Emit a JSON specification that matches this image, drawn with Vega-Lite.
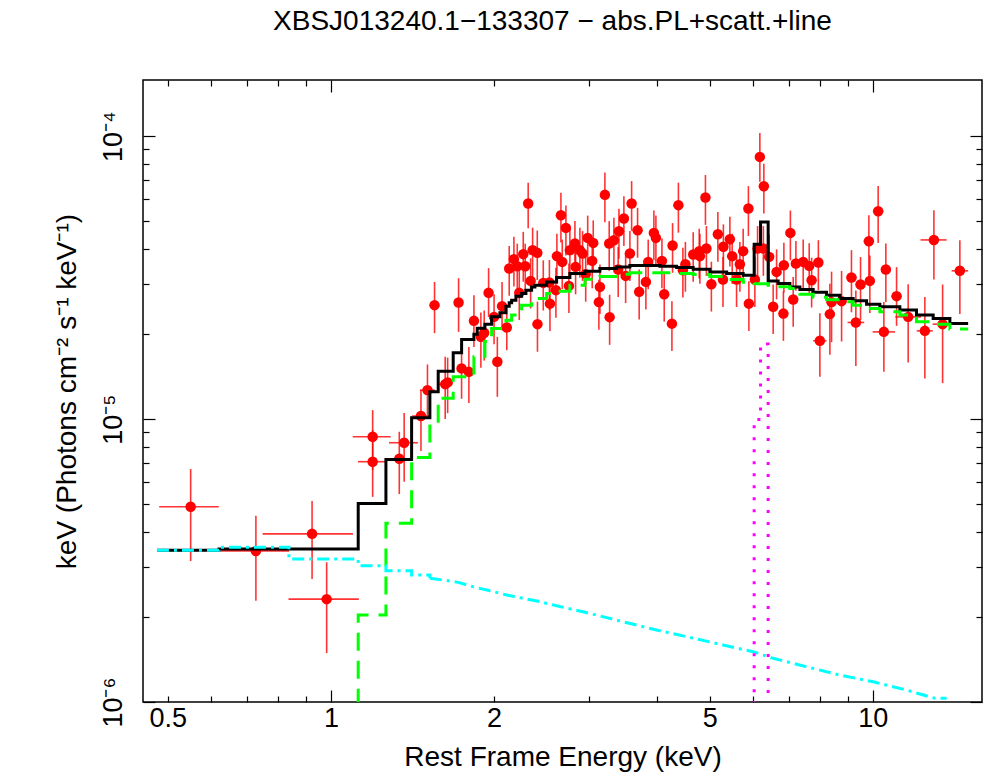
{
  "$schema": "https://vega.github.io/schema/vega-lite/v6.json",
  "autosize": {"type": "none"},
  "padding": {"left": 143, "top": 80, "right": 3, "bottom": 70},
  "width": 839,
  "height": 622,
  "background": "#ffffff",
  "title": {"text": "XBSJ013240.1−133307 − abs.PL+scatt.+line", "fontSize": 28, "fontWeight": "normal", "font": "Liberation Sans", "color": "#000000", "anchor": "middle", "baseline": "alphabetic", "offset": 21, "dx": -10},
  "config": {
    "view": {"stroke": "#000000", "strokeWidth": 1.5},
    "font": "Liberation Sans",
    "axis": {"labelFont": "Liberation Sans", "titleFont": "Liberation Sans", "labelColor": "#000000", "titleColor": "#000000", "tickColor": "#000000", "titleFontWeight": "normal", "grid": false, "labelFlush": false, "labelOverlap": false}
  },
  "datasets": {
    "pts": [
      {"e": 0.551, "elo": 0.482, "ehi": 0.621, "f": 4.90e-6, "flo": 3.15e-6, "fhi": 6.66e-6},
      {"e": 0.727, "elo": 0.619, "ehi": 0.837, "f": 3.42e-6, "flo": 2.28e-6, "fhi": 4.55e-6},
      {"e": 0.923, "elo": 0.748, "ehi": 1.098, "f": 3.93e-6, "flo": 2.72e-6, "fhi": 5.13e-6},
      {"e": 0.982, "elo": 0.835, "ehi": 1.126, "f": 2.31e-6, "flo": 1.49e-6, "fhi": 3.12e-6},
      {"e": 1.194, "elo": 1.097, "ehi": 1.289, "f": 8.66e-6, "flo": 6.60e-6, "fhi": 1.076e-5},
      {"e": 1.194, "elo": 1.122, "ehi": 1.267, "f": 7.07e-6, "flo": 5.31e-6, "fhi": 9.14e-6},
      {"e": 1.337, "elo": 1.280, "ehi": 1.399, "f": 7.24e-6, "flo": 5.43e-6, "fhi": 9.02e-6},
      {"e": 1.365, "elo": 1.280, "ehi": 1.447, "f": 8.25e-6, "flo": 6.01e-6, "fhi": 1.050e-5},
      {"e": 1.466, "elo": 1.411, "ehi": 1.523, "f": 1.025e-5, "flo": 7.71e-6, "fhi": 1.266e-5},
      {"e": 1.507, "elo": 1.459, "ehi": 1.555, "f": 1.266e-5, "flo": 1.02e-5, "fhi": 1.56e-5},
      {"e": 1.625, "elo": 1.584, "ehi": 1.667, "f": 1.329e-5, "flo": 1.00e-5, "fhi": 1.66e-5},
      {"e": 1.642, "elo": 1.610, "ehi": 1.675, "f": 1.348e-5, "flo": 1.05e-5, "fhi": 1.65e-5},
      {"e": 1.553, "elo": 1.533, "ehi": 1.573, "f": 2.528e-5, "flo": 2.013e-5, "fhi": 3.055e-5},
      {"e": 1.720, "elo": 1.698, "ehi": 1.743, "f": 2.584e-5, "flo": 2.034e-5, "fhi": 3.148e-5},
      {"e": 1.836, "elo": 1.812, "ehi": 1.860, "f": 2.225e-5, "flo": 1.800e-5, "fhi": 2.742e-5},
      {"e": 1.954, "elo": 1.929, "ehi": 1.980, "f": 2.794e-5, "flo": 2.298e-5, "fhi": 3.417e-5},
      {"e": 2.069, "elo": 2.042, "ehi": 2.096, "f": 2.508e-5, "flo": 2.062e-5, "fhi": 3.055e-5},
      {"e": 2.000, "elo": 1.974, "ehi": 2.026, "f": 2.298e-5, "flo": 1.84e-5, "fhi": 2.76e-5},
      {"e": 1.918, "elo": 1.893, "ehi": 1.943, "f": 2.018e-5, "flo": 1.61e-5, "fhi": 2.42e-5},
      {"e": 1.891, "elo": 1.866, "ehi": 1.916, "f": 1.953e-5, "flo": 1.52e-5, "fhi": 2.38e-5},
      {"e": 2.111, "elo": 2.084, "ehi": 2.138, "f": 2.109e-5, "flo": 1.752e-5, "fhi": 2.468e-5},
      {"e": 2.028, "elo": 2.002, "ehi": 2.054, "f": 1.594e-5, "flo": 1.199e-5, "fhi": 1.953e-5},
      {"e": 1.742, "elo": 1.719, "ehi": 1.765, "f": 1.511e-5, "flo": 1.18e-5, "fhi": 1.84e-5},
      {"e": 1.797, "elo": 1.774, "ehi": 1.821, "f": 1.469e-5, "flo": 1.139e-5, "fhi": 1.800e-5},
      {"e": 2.312, "elo": 2.282, "ehi": 2.342, "f": 5.785e-5, "flo": 4.729e-5, "fhi": 6.840e-5},
      {"e": 2.133, "elo": 2.105, "ehi": 2.161, "f": 3.408e-5, "flo": 2.73e-5, "fhi": 4.09e-5},
      {"e": 2.176, "elo": 2.148, "ehi": 2.204, "f": 3.676e-5, "flo": 2.94e-5, "fhi": 4.41e-5},
      {"e": 2.207, "elo": 2.178, "ehi": 2.236, "f": 3.472e-5, "flo": 2.78e-5, "fhi": 4.17e-5},
      {"e": 2.264, "elo": 2.234, "ehi": 2.293, "f": 3.829e-5, "flo": 3.06e-5, "fhi": 4.59e-5},
      {"e": 2.283, "elo": 2.253, "ehi": 2.313, "f": 3.472e-5, "flo": 2.78e-5, "fhi": 4.17e-5},
      {"e": 2.356, "elo": 2.325, "ehi": 2.387, "f": 3.955e-5, "flo": 3.16e-5, "fhi": 4.75e-5},
      {"e": 2.403, "elo": 2.372, "ehi": 2.434, "f": 3.869e-5, "flo": 3.10e-5, "fhi": 4.64e-5},
      {"e": 2.226, "elo": 2.197, "ehi": 2.255, "f": 2.794e-5, "flo": 2.24e-5, "fhi": 3.35e-5},
      {"e": 2.336, "elo": 2.306, "ehi": 2.366, "f": 3.080e-5, "flo": 2.46e-5, "fhi": 3.70e-5},
      {"e": 2.465, "elo": 2.433, "ehi": 2.497, "f": 3.030e-5, "flo": 2.42e-5, "fhi": 3.64e-5},
      {"e": 2.536, "elo": 2.503, "ehi": 2.569, "f": 2.559e-5, "flo": 2.05e-5, "fhi": 3.07e-5},
      {"e": 2.405, "elo": 2.374, "ehi": 2.436, "f": 2.166e-5, "flo": 1.73e-5, "fhi": 2.60e-5},
      {"e": 2.657, "elo": 2.622, "ehi": 2.692, "f": 5.257e-5, "flo": 4.21e-5, "fhi": 6.31e-5},
      {"e": 2.714, "elo": 2.679, "ehi": 2.749, "f": 4.741e-5, "flo": 3.79e-5, "fhi": 5.69e-5},
      {"e": 3.203, "elo": 3.161, "ehi": 3.245, "f": 6.204e-5, "flo": 4.96e-5, "fhi": 7.44e-5},
      {"e": 3.588, "elo": 3.541, "ehi": 3.635, "f": 5.785e-5, "flo": 4.63e-5, "fhi": 6.94e-5},
      {"e": 3.472, "elo": 3.427, "ehi": 3.517, "f": 5.118e-5, "flo": 4.09e-5, "fhi": 6.14e-5},
      {"e": 3.680, "elo": 3.632, "ehi": 3.728, "f": 4.653e-5, "flo": 3.72e-5, "fhi": 5.58e-5},
      {"e": 3.400, "elo": 3.356, "ehi": 3.444, "f": 4.615e-5, "flo": 3.69e-5, "fhi": 5.54e-5},
      {"e": 3.944, "elo": 3.893, "ehi": 3.995, "f": 4.552e-5, "flo": 3.64e-5, "fhi": 5.46e-5},
      {"e": 3.978, "elo": 3.926, "ehi": 4.030, "f": 4.370e-5, "flo": 3.50e-5, "fhi": 5.24e-5},
      {"e": 4.377, "elo": 4.320, "ehi": 4.434, "f": 5.705e-5, "flo": 4.56e-5, "fhi": 6.85e-5},
      {"e": 4.270, "elo": 4.214, "ehi": 4.326, "f": 4.109e-5, "flo": 3.29e-5, "fhi": 4.93e-5},
      {"e": 3.328, "elo": 3.285, "ehi": 3.371, "f": 4.289e-5, "flo": 3.43e-5, "fhi": 5.15e-5},
      {"e": 3.262, "elo": 3.220, "ehi": 3.304, "f": 4.175e-5, "flo": 3.34e-5, "fhi": 5.01e-5},
      {"e": 2.977, "elo": 2.938, "ehi": 3.016, "f": 4.370e-5, "flo": 3.50e-5, "fhi": 5.24e-5},
      {"e": 3.048, "elo": 3.008, "ehi": 3.088, "f": 4.196e-5, "flo": 3.36e-5, "fhi": 5.04e-5},
      {"e": 2.820, "elo": 2.783, "ehi": 2.857, "f": 4.175e-5, "flo": 3.34e-5, "fhi": 5.01e-5},
      {"e": 2.760, "elo": 2.724, "ehi": 2.796, "f": 3.955e-5, "flo": 3.16e-5, "fhi": 4.75e-5},
      {"e": 2.880, "elo": 2.843, "ehi": 2.917, "f": 3.955e-5, "flo": 3.16e-5, "fhi": 4.75e-5},
      {"e": 2.913, "elo": 2.875, "ehi": 2.951, "f": 3.850e-5, "flo": 3.08e-5, "fhi": 4.62e-5},
      {"e": 2.612, "elo": 2.578, "ehi": 2.646, "f": 3.767e-5, "flo": 3.01e-5, "fhi": 4.52e-5},
      {"e": 2.672, "elo": 2.637, "ehi": 2.707, "f": 3.595e-5, "flo": 2.88e-5, "fhi": 4.31e-5},
      {"e": 3.035, "elo": 2.996, "ehi": 3.074, "f": 3.625e-5, "flo": 2.90e-5, "fhi": 4.35e-5},
      {"e": 3.562, "elo": 3.516, "ehi": 3.608, "f": 3.850e-5, "flo": 3.08e-5, "fhi": 4.62e-5},
      {"e": 2.828, "elo": 2.791, "ehi": 2.865, "f": 3.452e-5, "flo": 2.76e-5, "fhi": 4.14e-5},
      {"e": 3.850, "elo": 3.800, "ehi": 3.900, "f": 3.595e-5, "flo": 2.88e-5, "fhi": 4.31e-5},
      {"e": 4.081, "elo": 4.028, "ehi": 4.134, "f": 3.625e-5, "flo": 2.90e-5, "fhi": 4.35e-5},
      {"e": 3.389, "elo": 3.345, "ehi": 3.433, "f": 3.380e-5, "flo": 2.70e-5, "fhi": 4.06e-5},
      {"e": 3.498, "elo": 3.453, "ehi": 3.543, "f": 3.208e-5, "flo": 2.57e-5, "fhi": 3.85e-5},
      {"e": 2.952, "elo": 2.914, "ehi": 2.990, "f": 3.253e-5, "flo": 2.60e-5, "fhi": 3.90e-5},
      {"e": 2.530, "elo": 2.497, "ehi": 2.563, "f": 3.040e-5, "flo": 2.43e-5, "fhi": 3.65e-5},
      {"e": 2.749, "elo": 2.713, "ehi": 2.785, "f": 2.957e-5, "flo": 2.37e-5, "fhi": 3.55e-5},
      {"e": 2.601, "elo": 2.567, "ehi": 2.635, "f": 2.856e-5, "flo": 2.28e-5, "fhi": 3.43e-5},
      {"e": 3.136, "elo": 3.095, "ehi": 3.177, "f": 2.933e-5, "flo": 2.35e-5, "fhi": 3.52e-5},
      {"e": 3.812, "elo": 3.762, "ehi": 3.862, "f": 3.055e-5, "flo": 2.44e-5, "fhi": 3.67e-5},
      {"e": 3.705, "elo": 3.657, "ehi": 3.753, "f": 2.817e-5, "flo": 2.25e-5, "fhi": 3.38e-5},
      {"e": 4.121, "elo": 4.067, "ehi": 4.175, "f": 2.764e-5, "flo": 2.21e-5, "fhi": 3.32e-5},
      {"e": 3.122, "elo": 3.081, "ehi": 3.163, "f": 2.591e-5, "flo": 2.07e-5, "fhi": 3.11e-5},
      {"e": 3.268, "elo": 3.226, "ehi": 3.310, "f": 2.293e-5, "flo": 1.83e-5, "fhi": 2.75e-5},
      {"e": 4.258, "elo": 4.203, "ehi": 4.313, "f": 2.175e-5, "flo": 1.74e-5, "fhi": 2.61e-5},
      {"e": 6.187, "elo": 6.107, "ehi": 6.267, "f": 8.450e-5, "flo": 6.896e-5, "fhi": 1.0272e-4},
      {"e": 6.293, "elo": 6.211, "ehi": 6.375, "f": 6.658e-5, "flo": 5.33e-5, "fhi": 7.99e-5},
      {"e": 4.910, "elo": 4.846, "ehi": 4.974, "f": 6.074e-5, "flo": 4.86e-5, "fhi": 7.29e-5},
      {"e": 5.893, "elo": 5.816, "ehi": 5.970, "f": 5.553e-5, "flo": 4.44e-5, "fhi": 6.66e-5},
      {"e": 7.044, "elo": 6.952, "ehi": 7.136, "f": 4.552e-5, "flo": 3.64e-5, "fhi": 5.46e-5},
      {"e": 5.176, "elo": 5.109, "ehi": 5.243, "f": 4.504e-5, "flo": 3.60e-5, "fhi": 5.40e-5},
      {"e": 5.447, "elo": 5.376, "ehi": 5.518, "f": 4.324e-5, "flo": 3.46e-5, "fhi": 5.19e-5},
      {"e": 5.299, "elo": 5.230, "ehi": 5.368, "f": 4.069e-5, "flo": 3.26e-5, "fhi": 4.88e-5},
      {"e": 4.930, "elo": 4.866, "ehi": 4.994, "f": 4.010e-5, "flo": 3.21e-5, "fhi": 4.81e-5},
      {"e": 4.782, "elo": 4.720, "ehi": 4.844, "f": 3.923e-5, "flo": 3.14e-5, "fhi": 4.71e-5},
      {"e": 4.661, "elo": 4.600, "ehi": 4.722, "f": 3.819e-5, "flo": 3.06e-5, "fhi": 4.58e-5},
      {"e": 4.796, "elo": 4.734, "ehi": 4.858, "f": 3.767e-5, "flo": 3.01e-5, "fhi": 4.52e-5},
      {"e": 5.764, "elo": 5.689, "ehi": 5.839, "f": 3.923e-5, "flo": 3.14e-5, "fhi": 4.71e-5},
      {"e": 5.501, "elo": 5.429, "ehi": 5.573, "f": 3.767e-5, "flo": 3.01e-5, "fhi": 4.52e-5},
      {"e": 4.509, "elo": 4.450, "ehi": 4.568, "f": 3.528e-5, "flo": 2.82e-5, "fhi": 4.23e-5},
      {"e": 5.684, "elo": 5.610, "ehi": 5.758, "f": 3.528e-5, "flo": 2.82e-5, "fhi": 4.23e-5},
      {"e": 6.127, "elo": 6.047, "ehi": 6.207, "f": 4.010e-5, "flo": 3.21e-5, "fhi": 4.81e-5},
      {"e": 6.280, "elo": 6.198, "ehi": 6.362, "f": 4.010e-5, "flo": 3.21e-5, "fhi": 4.81e-5},
      {"e": 6.436, "elo": 6.352, "ehi": 6.520, "f": 3.745e-5, "flo": 3.00e-5, "fhi": 4.49e-5},
      {"e": 6.852, "elo": 6.763, "ehi": 6.941, "f": 3.499e-5, "flo": 2.80e-5, "fhi": 4.20e-5},
      {"e": 6.643, "elo": 6.557, "ehi": 6.729, "f": 3.314e-5, "flo": 2.65e-5, "fhi": 3.98e-5},
      {"e": 7.211, "elo": 7.117, "ehi": 7.305, "f": 3.548e-5, "flo": 2.84e-5, "fhi": 4.26e-5},
      {"e": 7.438, "elo": 7.341, "ehi": 7.535, "f": 3.595e-5, "flo": 2.88e-5, "fhi": 4.31e-5},
      {"e": 7.630, "elo": 7.531, "ehi": 7.729, "f": 3.480e-5, "flo": 2.78e-5, "fhi": 4.18e-5},
      {"e": 7.933, "elo": 7.830, "ehi": 8.036, "f": 3.578e-5, "flo": 2.86e-5, "fhi": 4.29e-5},
      {"e": 7.709, "elo": 7.609, "ehi": 7.809, "f": 3.098e-5, "flo": 2.48e-5, "fhi": 3.72e-5},
      {"e": 4.461, "elo": 4.403, "ehi": 4.519, "f": 3.360e-5, "flo": 2.69e-5, "fhi": 4.03e-5},
      {"e": 5.035, "elo": 4.970, "ehi": 5.100, "f": 2.998e-5, "flo": 2.40e-5, "fhi": 3.60e-5},
      {"e": 5.290, "elo": 5.221, "ehi": 5.359, "f": 3.116e-5, "flo": 2.49e-5, "fhi": 3.74e-5},
      {"e": 5.604, "elo": 5.531, "ehi": 5.677, "f": 3.116e-5, "flo": 2.49e-5, "fhi": 3.74e-5},
      {"e": 6.057, "elo": 5.978, "ehi": 6.136, "f": 3.116e-5, "flo": 2.49e-5, "fhi": 3.74e-5},
      {"e": 5.905, "elo": 5.828, "ehi": 5.982, "f": 2.559e-5, "flo": 2.05e-5, "fhi": 3.07e-5},
      {"e": 6.547, "elo": 6.462, "ehi": 6.632, "f": 2.494e-5, "flo": 2.00e-5, "fhi": 2.99e-5},
      {"e": 6.838, "elo": 6.749, "ehi": 6.927, "f": 2.360e-5, "flo": 1.89e-5, "fhi": 2.83e-5},
      {"e": 7.129, "elo": 7.036, "ehi": 7.222, "f": 2.648e-5, "flo": 2.12e-5, "fhi": 3.18e-5},
      {"e": 7.984, "elo": 7.760, "ehi": 8.210, "f": 1.891e-5, "flo": 1.411e-5, "fhi": 2.369e-5},
      {"e": 10.228, "elo": 10.01, "ehi": 10.45, "f": 5.432e-5, "flo": 4.196e-5, "fhi": 6.674e-5},
      {"e": 9.832, "elo": 9.62, "ehi": 10.04, "f": 4.255e-5, "flo": 3.10e-5, "fhi": 5.26e-5},
      {"e": 12.961, "elo": 12.246, "ehi": 13.679, "f": 4.299e-5, "flo": 3.116e-5, "fhi": 5.476e-5},
      {"e": 14.472, "elo": 13.973, "ehi": 14.991, "f": 3.344e-5, "flo": 2.354e-5, "fhi": 4.289e-5},
      {"e": 10.568, "elo": 10.35, "ehi": 10.79, "f": 3.380e-5, "flo": 2.595e-5, "fhi": 4.175e-5},
      {"e": 9.131, "elo": 8.94, "ehi": 9.33, "f": 3.167e-5, "flo": 2.385e-5, "fhi": 3.955e-5},
      {"e": 9.873, "elo": 9.67, "ehi": 10.08, "f": 3.080e-5, "flo": 2.37e-5, "fhi": 3.79e-5},
      {"e": 9.490, "elo": 9.29, "ehi": 9.69, "f": 2.991e-5, "flo": 2.24e-5, "fhi": 3.74e-5},
      {"e": 11.060, "elo": 10.83, "ehi": 11.30, "f": 2.720e-5, "flo": 2.136e-5, "fhi": 3.445e-5},
      {"e": 8.391, "elo": 8.21, "ehi": 8.57, "f": 2.591e-5, "flo": 1.87e-5, "fhi": 3.32e-5},
      {"e": 8.756, "elo": 8.57, "ehi": 8.94, "f": 2.612e-5, "flo": 1.88e-5, "fhi": 3.34e-5},
      {"e": 8.331, "elo": 8.15, "ehi": 8.51, "f": 2.350e-5, "flo": 1.69e-5, "fhi": 3.01e-5},
      {"e": 11.619, "elo": 11.00, "ehi": 12.27, "f": 2.298e-5, "flo": 1.585e-5, "fhi": 2.998e-5},
      {"e": 9.303, "elo": 8.98, "ehi": 9.64, "f": 2.196e-5, "flo": 1.54e-5, "fhi": 2.85e-5},
      {"e": 10.479, "elo": 9.99, "ehi": 10.99, "f": 2.034e-5, "flo": 1.469e-5, "fhi": 2.595e-5},
      {"e": 12.472, "elo": 12.05, "ehi": 12.90, "f": 2.051e-5, "flo": 1.393e-5, "fhi": 2.702e-5},
      {"e": 13.450, "elo": 12.89, "ehi": 14.03, "f": 2.166e-5, "flo": 1.34e-5, "fhi": 2.99e-5}
    ],
    "model": [
      {"c": "tot", "e": 0.4775, "f": 3.436e-6},
      {"c": "tot", "e": 0.6214, "f": 3.473e-6},
      {"c": "tot", "e": 1.1229, "f": 5.035e-6},
      {"c": "tot", "e": 1.2632, "f": 7.205e-6},
      {"c": "tot", "e": 1.4089, "f": 1.0106e-5},
      {"c": "tot", "e": 1.5226, "f": 1.2486e-5},
      {"c": "tot", "e": 1.5774, "f": 1.4773e-5},
      {"c": "tot", "e": 1.6812, "f": 1.7151e-5},
      {"c": "tot", "e": 1.7424, "f": 1.912e-5},
      {"c": "tot", "e": 1.8358, "f": 1.9968e-5},
      {"c": "tot", "e": 1.8619, "f": 2.0966e-5},
      {"c": "tot", "e": 1.9237, "f": 2.166e-5},
      {"c": "tot", "e": 1.9793, "f": 2.298e-5},
      {"c": "tot", "e": 2.0503, "f": 2.375e-5},
      {"c": "tot", "e": 2.1034, "f": 2.508e-5},
      {"c": "tot", "e": 2.1329, "f": 2.576e-5},
      {"c": "tot", "e": 2.1548, "f": 2.633e-5},
      {"c": "tot", "e": 2.1945, "f": 2.720e-5},
      {"c": "tot", "e": 2.2483, "f": 2.780e-5},
      {"c": "tot", "e": 2.2897, "f": 2.856e-5},
      {"c": "tot", "e": 2.3459, "f": 2.933e-5},
      {"c": "tot", "e": 2.3790, "f": 2.974e-5},
      {"c": "tot", "e": 2.5004, "f": 3.055e-5},
      {"c": "tot", "e": 2.6087, "f": 3.167e-5},
      {"c": "tot", "e": 2.7604, "f": 3.272e-5},
      {"c": "tot", "e": 2.9428, "f": 3.334e-5},
      {"c": "tot", "e": 3.1356, "f": 3.408e-5},
      {"c": "tot", "e": 3.3665, "f": 3.452e-5},
      {"c": "tot", "e": 3.5617, "f": 3.492e-5},
      {"c": "tot", "e": 3.7689, "f": 3.492e-5},
      {"c": "tot", "e": 4.0461, "f": 3.472e-5},
      {"c": "tot", "e": 4.3434, "f": 3.436e-5},
      {"c": "tot", "e": 4.6611, "f": 3.389e-5},
      {"c": "tot", "e": 5.0031, "f": 3.314e-5},
      {"c": "tot", "e": 5.3733, "f": 3.272e-5},
      {"c": "tot", "e": 5.7638, "f": 3.226e-5},
      {"c": "tot", "e": 6.0393, "f": 4.153e-5},
      {"c": "tot", "e": 6.2054, "f": 4.978e-5},
      {"c": "tot", "e": 6.4090, "f": 3.080e-5},
      {"c": "tot", "e": 6.6874, "f": 3.016e-5},
      {"c": "tot", "e": 7.0290, "f": 2.933e-5},
      {"c": "tot", "e": 7.3344, "f": 2.872e-5},
      {"c": "tot", "e": 7.7610, "f": 2.810e-5},
      {"c": "tot", "e": 8.2143, "f": 2.742e-5},
      {"c": "tot", "e": 8.6935, "f": 2.670e-5},
      {"c": "tot", "e": 9.1966, "f": 2.618e-5},
      {"c": "tot", "e": 9.7361, "f": 2.549e-5},
      {"c": "tot", "e": 10.302, "f": 2.494e-5},
      {"c": "tot", "e": 11.216, "f": 2.428e-5},
      {"c": "tot", "e": 12.036, "f": 2.331e-5},
      {"c": "tot", "e": 12.922, "f": 2.269e-5},
      {"c": "tot", "e": 13.872, "f": 2.179e-5},
      {"c": "tot", "e": 14.991, "f": 2.179e-5},
      {"c": "pl", "e": 0.9, "f": 1e-9},
      {"c": "pl", "e": 1.1229, "f": 2.029e-6},
      {"c": "pl", "e": 1.2632, "f": 4.280e-6},
      {"c": "pl", "e": 1.4089, "f": 7.320e-6},
      {"c": "pl", "e": 1.5226, "f": 9.704e-6},
      {"c": "pl", "e": 1.5774, "f": 1.186e-5},
      {"c": "pl", "e": 1.6812, "f": 1.411e-5},
      {"c": "pl", "e": 1.8358, "f": 1.661e-5},
      {"c": "pl", "e": 1.9237, "f": 1.88e-5},
      {"c": "pl", "e": 1.9793, "f": 2.092e-5},
      {"c": "pl", "e": 2.1034, "f": 2.238e-5},
      {"c": "pl", "e": 2.1548, "f": 2.331e-5},
      {"c": "pl", "e": 2.2483, "f": 2.528e-5},
      {"c": "pl", "e": 2.3459, "f": 2.670e-5},
      {"c": "pl", "e": 2.5004, "f": 2.780e-5},
      {"c": "pl", "e": 2.6087, "f": 2.831e-5},
      {"c": "pl", "e": 2.7604, "f": 2.974e-5},
      {"c": "pl", "e": 2.9428, "f": 3.124e-5},
      {"c": "pl", "e": 3.1356, "f": 3.194e-5},
      {"c": "pl", "e": 3.3665, "f": 3.253e-5},
      {"c": "pl", "e": 3.5617, "f": 3.288e-5},
      {"c": "pl", "e": 4.0461, "f": 3.288e-5},
      {"c": "pl", "e": 4.3434, "f": 3.272e-5},
      {"c": "pl", "e": 4.6611, "f": 3.245e-5},
      {"c": "pl", "e": 5.0031, "f": 3.194e-5},
      {"c": "pl", "e": 5.3733, "f": 3.116e-5},
      {"c": "pl", "e": 5.7638, "f": 3.048e-5},
      {"c": "pl", "e": 6.0393, "f": 3.011e-5},
      {"c": "pl", "e": 6.4090, "f": 2.974e-5},
      {"c": "pl", "e": 6.6874, "f": 2.937e-5},
      {"c": "pl", "e": 7.0290, "f": 2.895e-5},
      {"c": "pl", "e": 7.3344, "f": 2.764e-5},
      {"c": "pl", "e": 7.7610, "f": 2.698e-5},
      {"c": "pl", "e": 8.2143, "f": 2.644e-5},
      {"c": "pl", "e": 8.6935, "f": 2.597e-5},
      {"c": "pl", "e": 9.1966, "f": 2.528e-5},
      {"c": "pl", "e": 9.7361, "f": 2.462e-5},
      {"c": "pl", "e": 10.302, "f": 2.395e-5},
      {"c": "pl", "e": 11.216, "f": 2.331e-5},
      {"c": "pl", "e": 12.036, "f": 2.207e-5},
      {"c": "pl", "e": 12.922, "f": 2.166e-5},
      {"c": "pl", "e": 13.872, "f": 2.080e-5},
      {"c": "pl", "e": 14.991, "f": 2.080e-5},
      {"c": "scatlo", "e": 0.4775, "f": 3.436e-6},
      {"c": "scatlo", "e": 0.6214, "f": 3.521e-6},
      {"c": "scatlo", "e": 0.8366, "f": 3.200e-6},
      {"c": "scatlo", "e": 1.1229, "f": 3.031e-6},
      {"c": "scatlo", "e": 1.2632, "f": 2.910e-6},
      {"c": "scatlo", "e": 1.4089, "f": 2.810e-6},
      {"c": "scatlo", "e": 1.5226, "f": 2.736e-6},
      {"c": "scathi", "e": 1.5226, "f": 2.736e-6},
      {"c": "scathi", "e": 1.6113, "f": 2.698e-6},
      {"c": "scathi", "e": 1.7175, "f": 2.648e-6},
      {"c": "scathi", "e": 1.8304, "f": 2.555e-6},
      {"c": "scathi", "e": 1.9651, "f": 2.472e-6},
      {"c": "scathi", "e": 2.1105, "f": 2.388e-6},
      {"c": "scathi", "e": 2.2636, "f": 2.325e-6},
      {"c": "scathi", "e": 2.4301, "f": 2.262e-6},
      {"c": "scathi", "e": 2.6087, "f": 2.189e-6},
      {"c": "scathi", "e": 3.0057, "f": 2.057e-6},
      {"c": "scathi", "e": 3.4621, "f": 1.921e-6},
      {"c": "scathi", "e": 3.9898, "f": 1.796e-6},
      {"c": "scathi", "e": 4.5960, "f": 1.692e-6},
      {"c": "scathi", "e": 5.2941, "f": 1.590e-6},
      {"c": "scathi", "e": 6.0135, "f": 1.506e-6},
      {"c": "scathi", "e": 6.5465, "f": 1.427e-6},
      {"c": "scathi", "e": 7.5463, "f": 1.332e-6},
      {"c": "scathi", "e": 8.6935, "f": 1.245e-6},
      {"c": "scathi", "e": 10.013, "f": 1.179e-6},
      {"c": "scathi", "e": 11.541, "f": 1.102e-6},
      {"c": "scathi", "e": 12.210, "f": 1.067e-6},
      {"c": "scathi", "e": 13.016, "f": 1.031e-6},
      {"c": "scathi", "e": 13.679, "f": 1.031e-6},
      {"c": "line", "e": 5.9, "f": 1e-9},
      {"c": "line", "e": 6.0393, "f": 9.976e-6},
      {"c": "line", "e": 6.2054, "f": 1.841e-5},
      {"c": "line", "e": 6.4090, "f": 1e-9},
      {"c": "line", "e": 6.6, "f": 1e-9}
    ]
  },
  "resolve": {"axis": {"x": "independent", "y": "independent"}},
  "layer": [
    {
      "data": {"name": "pts"},
      "mark": {"type": "rule", "color": "#ff0000", "strokeWidth": 1.6, "opacity": 0.8},
      "encoding": {
        "x": {"field": "elo", "type": "quantitative", "scale": {"type": "log", "domain": [0.45, 15.9], "nice": false},
              "axis": {"orient": "bottom", "values": [0.5, 1, 2, 5, 10], "format": "~g", "ticks": false, "domain": false, "labelFontSize": 27, "labelPadding": 3, "labelBaseline": "top", "title": "Rest Frame Energy (keV)", "titleFontSize": 28, "titleY": 63, "titleBaseline": "alphabetic"}},
        "x2": {"field": "ehi"},
        "y": {"field": "f", "type": "quantitative", "scale": {"type": "log", "domain": [1e-6, 1.58e-4], "nice": false},
              "axis": {"orient": "left", "values": [1e-6, 1e-5, 1e-4], "labelExpr": "datum.value < 2e-6 ? '10⁻⁶' : (datum.value < 2e-5 ? '10⁻⁵' : '10⁻⁴')", "labelAngle": -90, "labelAlign": "center", "labelBaseline": "bottom", "labelPadding": 16, "labelFontSize": 27, "ticks": false, "domain": false, "title": "keV (Photons cm⁻² s⁻¹ keV⁻¹)", "titleFontSize": 28, "titleAngle": -90, "titleX": -76, "titleY": 311, "titleAlign": "center", "titleBaseline": "middle"}}
      }
    },
    {
      "data": {"name": "pts"},
      "mark": {"type": "rule", "color": "#ff0000", "strokeWidth": 1.6, "opacity": 0.8},
      "encoding": {
        "x": {"field": "e", "type": "quantitative", "scale": {"type": "log", "domain": [0.45, 15.9], "nice": false},
              "axis": {"orient": "bottom", "values": [0.5, 0.6, 0.7, 0.8, 0.9, 2, 3, 4, 5, 6, 7, 8, 9], "labels": false, "domain": false, "ticks": true, "tickSize": -6, "tickWidth": 1.2, "title": null}},
        "y": {"field": "flo", "type": "quantitative", "scale": {"type": "log", "domain": [1e-6, 1.58e-4], "nice": false},
              "axis": {"orient": "left", "values": [2e-6, 3e-6, 4e-6, 5e-6, 6e-6, 7e-6, 8e-6, 9e-6, 2e-5, 3e-5, 4e-5, 5e-5, 6e-5, 7e-5, 8e-5, 9e-5], "labels": false, "domain": false, "ticks": true, "tickSize": -6, "tickWidth": 1.2, "title": null}},
        "y2": {"field": "fhi"}
      }
    },
    {
      "data": {"name": "pts"},
      "mark": {"type": "point", "shape": "circle", "filled": true, "size": 110, "color": "#ff0000", "opacity": 1},
      "encoding": {
        "x": {"field": "e", "type": "quantitative", "scale": {"type": "log", "domain": [0.45, 15.9], "nice": false},
              "axis": {"orient": "bottom", "values": [1, 10], "labels": false, "domain": false, "ticks": true, "tickSize": -12, "tickWidth": 1.2, "title": null}},
        "y": {"field": "f", "type": "quantitative", "scale": {"type": "log", "domain": [1e-6, 1.58e-4], "nice": false},
              "axis": {"orient": "left", "values": [1e-6, 1e-5, 1e-4], "labels": false, "domain": false, "ticks": true, "tickSize": -12, "tickWidth": 1.2, "title": null}}
      }
    },
    {
      "data": {"name": "model"},
      "transform": [{"filter": "datum.c == 'tot'"}],
      "mark": {"type": "line", "interpolate": "step-after", "color": "#000000", "strokeWidth": 3, "clip": true},
      "encoding": {
        "x": {"field": "e", "type": "quantitative", "scale": {"type": "log", "domain": [0.45, 15.9], "nice": false},
              "axis": {"orient": "top", "values": [0.5, 0.6, 0.7, 0.8, 0.9, 2, 3, 4, 5, 6, 7, 8, 9], "labels": false, "domain": false, "ticks": true, "tickSize": -6, "tickWidth": 1.2, "title": null}},
        "y": {"field": "f", "type": "quantitative", "scale": {"type": "log", "domain": [1e-6, 1.58e-4], "nice": false},
              "axis": {"orient": "right", "values": [2e-6, 3e-6, 4e-6, 5e-6, 6e-6, 7e-6, 8e-6, 9e-6, 2e-5, 3e-5, 4e-5, 5e-5, 6e-5, 7e-5, 8e-5, 9e-5], "labels": false, "domain": false, "ticks": true, "tickSize": -6, "tickWidth": 1.2, "title": null}}
      }
    },
    {
      "data": {"name": "model"},
      "transform": [{"filter": "datum.c == 'pl'"}],
      "mark": {"type": "line", "interpolate": "step-after", "color": "#00ff00", "strokeWidth": 3, "strokeDash": [18, 10], "clip": true},
      "encoding": {
        "x": {"field": "e", "type": "quantitative", "scale": {"type": "log", "domain": [0.45, 15.9], "nice": false},
              "axis": {"orient": "top", "values": [1, 10], "labels": false, "domain": false, "ticks": true, "tickSize": -12, "tickWidth": 1.2, "title": null}},
        "y": {"field": "f", "type": "quantitative", "scale": {"type": "log", "domain": [1e-6, 1.58e-4], "nice": false},
              "axis": {"orient": "right", "values": [1e-6, 1e-5, 1e-4], "labels": false, "domain": false, "ticks": true, "tickSize": -12, "tickWidth": 1.2, "title": null}}
      }
    },
    {
      "data": {"name": "model"},
      "transform": [{"filter": "datum.c == 'scatlo'"}],
      "mark": {"type": "line", "interpolate": "step-after", "color": "#00ffff", "strokeWidth": 3, "strokeDash": [12, 5, 3, 5], "clip": true},
      "encoding": {
        "x": {"field": "e", "type": "quantitative", "scale": {"type": "log", "domain": [0.45, 15.9], "nice": false}, "axis": null},
        "y": {"field": "f", "type": "quantitative", "scale": {"type": "log", "domain": [1e-6, 1.58e-4], "nice": false}, "axis": null}
      }
    },
    {
      "data": {"name": "model"},
      "transform": [{"filter": "datum.c == 'scathi'"}],
      "mark": {"type": "line", "interpolate": "linear", "color": "#00ffff", "strokeWidth": 3, "strokeDash": [12, 5, 3, 5], "clip": true},
      "encoding": {
        "x": {"field": "e", "type": "quantitative", "scale": {"type": "log", "domain": [0.45, 15.9], "nice": false}, "axis": null},
        "y": {"field": "f", "type": "quantitative", "scale": {"type": "log", "domain": [1e-6, 1.58e-4], "nice": false}, "axis": null}
      }
    },
    {
      "data": {"name": "model"},
      "transform": [{"filter": "datum.c == 'line'"}],
      "mark": {"type": "line", "interpolate": "step-after", "color": "#ff00ff", "strokeWidth": 3, "strokeDash": [3, 9], "clip": true},
      "encoding": {
        "x": {"field": "e", "type": "quantitative", "scale": {"type": "log", "domain": [0.45, 15.9], "nice": false}, "axis": null},
        "y": {"field": "f", "type": "quantitative", "scale": {"type": "log", "domain": [1e-6, 1.58e-4], "nice": false}, "axis": null}
      }
    }
  ]
}
